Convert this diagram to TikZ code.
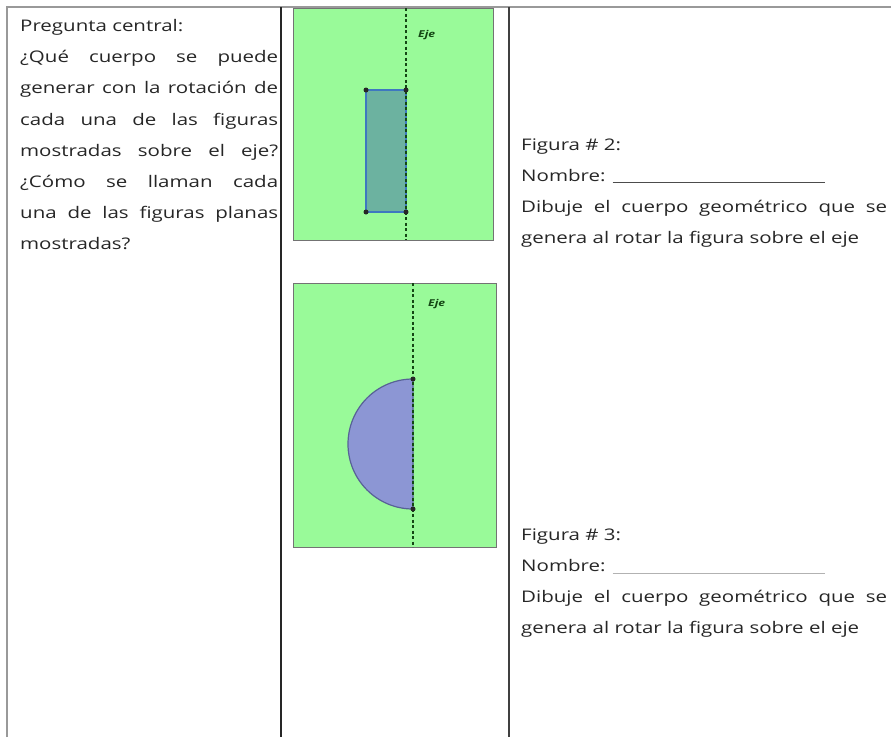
\documentclass[tikz,border=0pt]{standalone}
\usepackage{fontspec}
\setmainfont{Open Sans}[FakeStretch=1.28]
\usepackage{xcolor}
\usetikzlibrary{calc}

\definecolor{geogreen}{RGB}{153,250,153}
\definecolor{rectfill}{RGB}{108,178,160}
\definecolor{rectline}{RGB}{62,120,192}
\definecolor{halffill}{RGB}{140,150,212}
\definecolor{halfline}{RGB}{88,98,150}
\definecolor{ejegreen}{RGB}{20,70,20}

\begin{document}
\begin{tikzpicture}[x=1pt,y=-1pt,
  txt/.style={anchor=base west,inner sep=0pt,font=\fontsize{16}{18}\selectfont,text=black!85},
  border/.style={draw=black!40,line width=1.3pt},
  sep/.style={draw=black!85,line width=1.1pt},
  panel/.style={draw=black!55,fill=geogreen,line width=0.8pt},
  eje/.style={draw=ejegreen,line width=1.4pt,dash pattern=on 3pt off 2.5pt},
  dot/.style={circle,fill=black!85,inner sep=0pt,minimum size=5pt},
  ejetxt/.style={font=\fontsize{9.5}{10}\selectfont\itshape\bfseries,text=ejegreen,anchor=west,inner sep=0pt},
  uline/.style={draw=black!70,line width=0.8pt}
]
\useasboundingbox (0,0) rectangle (891,737);

% table rules
\draw[border] (7,737) -- (7,7) -- (891,7);
\draw[sep] (281,7) -- (281,737);
\draw[sep,draw=black!75] (509,7) -- (509,737);

% left column: question
\node[txt] (q0) at (20,31.5) {Pregunta central:};
\node[txt] (q1) at (20,62.7) {\makebox[258pt][s]{¿Qué cuerpo se puede}};
\node[txt] (q2) at (20,93.9) {\makebox[258pt][s]{generar con la rotación de}};
\node[txt] (q3) at (20,125.1) {\makebox[258pt][s]{cada una de las figuras}};
\node[txt] (q4) at (20,156.3) {\makebox[258pt][s]{mostradas sobre el eje?}};
\node[txt] (q5) at (20,187.5) {\makebox[258pt][s]{¿Cómo se llaman cada}};
\node[txt] (q6) at (20,218.7) {\makebox[258pt][s]{una de las figuras planas}};
\node[txt] (q7) at (20,249.9) {mostradas?};

% figure 2: rectangle
\path[panel] (293,8) rectangle (493,240);
\coordinate (r1) at (366,90);
\coordinate (r2) at (406,90);
\coordinate (r3) at (406,212);
\coordinate (r4) at (366,212);
\draw[rectline,fill=rectfill,line width=1.3pt] (r1) -- (r2) -- (r3) -- (r4) -- cycle;
\coordinate (a1) at (406,8);
\coordinate (b1) at (406,240);
\draw[eje] (a1) -- (b1);
\node[ejetxt] (e1) at (418,35) {Eje};
\foreach \p in {r1,r2,r3,r4} \node[dot] at (\p) {};

% figure 3: half disc
\path[panel] (293,283) rectangle (496,547);
\coordinate (h1) at (413,379);
\coordinate (h2) at (413,509);
\draw[halfline,fill=halffill,line width=1.2pt] (h1) arc[start angle=-90,end angle=-270,radius=65] -- cycle;
\coordinate (a2) at (413,283);
\coordinate (b2) at (413,547);
\draw[eje] (a2) -- (b2);
\node[ejetxt] (e2) at (428,304) {Eje};
\foreach \p in {h1,h2} \node[dot] at (\p) {};

% right column
\node[txt] (f2) at (521,150.5) {Figura \# 2:};
\node[txt] (n2) at (521,181.5) {Nombre:};
\coordinate (l2) at (825,182.5);
\draw[uline] ([shift={(7pt,-1pt)}]n2.base east) -- (l2);
\node[txt] (d2) at (521,212.5) {\makebox[366pt][s]{Dibuje el cuerpo geométrico que se}};
\node[txt] (g2) at (521,243.5) {genera al rotar la figura sobre el eje};

\node[txt] (f3) at (521,540.5) {Figura \# 3:};
\node[txt] (n3) at (521,571.5) {Nombre:};
\coordinate (l3) at (825,573.5);
\draw[uline,draw=black!30] ([shift={(7pt,-2pt)}]n3.base east) -- (l3);
\node[txt] (d3) at (521,602.5) {\makebox[366pt][s]{Dibuje el cuerpo geométrico que se}};
\node[txt] (g3) at (521,633.5) {genera al rotar la figura sobre el eje};
\end{tikzpicture}
\end{document}
